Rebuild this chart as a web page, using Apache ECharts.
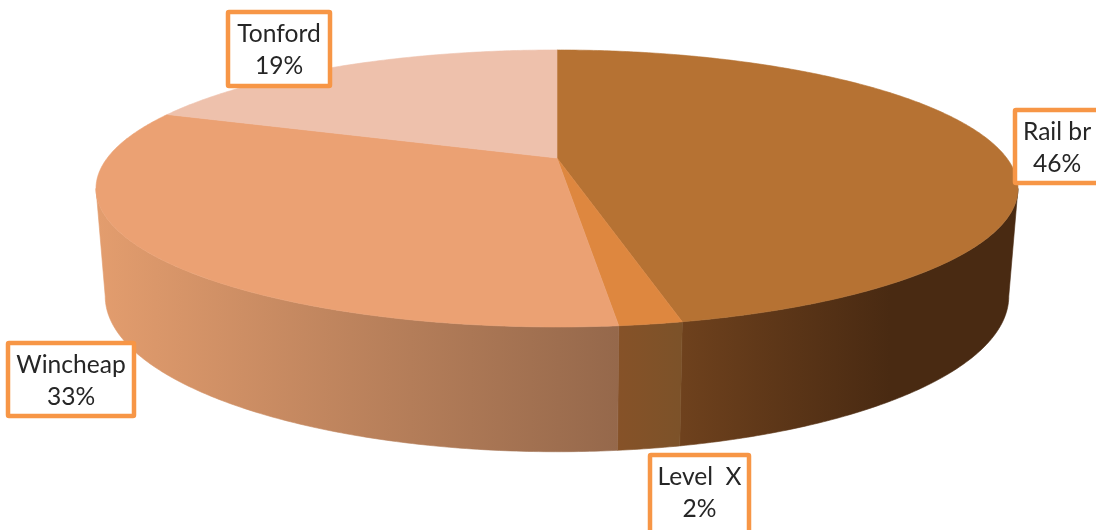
<!DOCTYPE html>
<html><head><meta charset="utf-8">
<style>html,body{margin:0;padding:0;background:#fff}#c{width:1096px;height:530px}</style>
<script src="https://cdn.jsdelivr.net/npm/echarts@6/dist/echarts.min.js"></script>
</head><body><div id="c"></div>
<script>
const categories = ['Rail br', 'Level  X', 'Wincheap', 'Tonford'];
const values = [46.49, 1.8, 32.5, 19.21];

const topColors = ['#B67233', '#DE873F', '#EBA173', '#EEC1AC'];
const wallColors = [['#6E411D', '#492A12'], ['#865228', '#7C5229'], ['#E39D6E', '#95684B'], ['#EEC1AC', '#EEC1AC']];
const wallGradientStops = [[0, 0.62], [0, 1], [0, 1], [0, 1]];
const labelBoxes = [[1015, 110, 90, 73], [650, 455, 99, 80], [8, 343, 126, 73], [228, 12, 102, 74]];

// perspective model of the pie disc
const CX = 557, TOP_CY = 158, R = 449.7, H = 131.8, P = 0.22;
const BOTTOM_CY = 262, BOTTOM_H = 148, BOTTOM_SCALE = 0.98;
const SIL = Math.PI - Math.acos(P);   // right silhouette angle
const total = values.reduce((a, b) => a + b, 0);
const starts = values.map((_, i) => values.slice(0, i).reduce((a, b) => a + b, 0) / total * 2 * Math.PI);
const ends = values.map((v, i) => starts[i] + v / total * 2 * Math.PI);

function topPt(t) {
  const u = Math.sin(t), v = Math.cos(t), w = 1 + P * v;
  return [CX + R * u / w, TOP_CY - H * v / w];
}
function botPt(t) {
  const u = Math.sin(t), v = Math.cos(t), w = 1 + P * v;
  return [CX + BOTTOM_SCALE * R * u / w, BOTTOM_CY - BOTTOM_H * v / w];
}
function arc(f, a, b) {
  const n = Math.max(2, Math.ceil(Math.abs(b - a) / 0.01)), pts = [];
  for (let i = 0; i <= n; i++) pts.push(f(a + (b - a) * i / n));
  return pts;
}
function renderTop(params, api) {
  const i = params.dataIndex;
  const pts = [[CX, TOP_CY]].concat(arc(topPt, starts[i], ends[i]));
  return { type: 'polygon', shape: { points: pts }, style: { fill: topColors[i], stroke: topColors[i], lineWidth: 0.6 } };
}
function renderWall(params, api) {
  const i = params.dataIndex;
  const a = Math.max(starts[i], SIL), b = Math.min(ends[i], 2 * Math.PI - SIL);
  if (b <= a) return null;
  const upper = arc(topPt, a, b), lower = arc(botPt, b, a);
  const x0 = upper[0][0], x1 = upper[upper.length - 1][0];
  const s = wallGradientStops[i];
  const grad = {
    type: 'linear', global: true, x: x1, y: 0, x2: x0, y2: 0,
    colorStops: [{ offset: s[0], color: wallColors[i][0] }, { offset: s[1], color: wallColors[i][1] }]
  };
  return {
    type: 'polygon',
    shape: { points: upper.concat(lower) },
    style: { fill: grad, stroke: grad, lineWidth: 0.6 }
  };
}
function renderLabel(params, api) {
  const i = params.dataIndex, b = labelBoxes[i];
  return {
    type: 'group',
    children: [
      { type: 'rect', shape: { x: b[0], y: b[1], width: b[2], height: b[3], r: 1 },
        style: { fill: '#fff', stroke: '#F79646', lineWidth: 4.5 } },
      { type: 'text',
        x: i === 0 ? 1057 : b[0] + b[2] / 2, y: b[1] + 38.5,
        style: { text: categories[i] + '\n' + Math.round(values[i]) + '%',
          fill: '#262626', font: '24.6px Lato', lineHeight: 32,
          align: 'center', verticalAlign: 'middle' } }
    ]
  };
}
const chart = echarts.init(document.getElementById('c'), null, { renderer: 'canvas' });
const rows = categories.map((c, i) => ({ name: c, value: values[i] }));
chart.setOption({
  animation: false,
  backgroundColor: '#fff',
  series: [
    { type: 'custom', coordinateSystem: 'none', renderItem: renderWall, data: rows, z: 1, silent: true },
    { type: 'custom', coordinateSystem: 'none', renderItem: renderTop, data: rows, z: 2, silent: true },
    { type: 'custom', coordinateSystem: 'none', renderItem: renderLabel, data: rows, z: 3, silent: true }
  ]
});
</script></body></html>
